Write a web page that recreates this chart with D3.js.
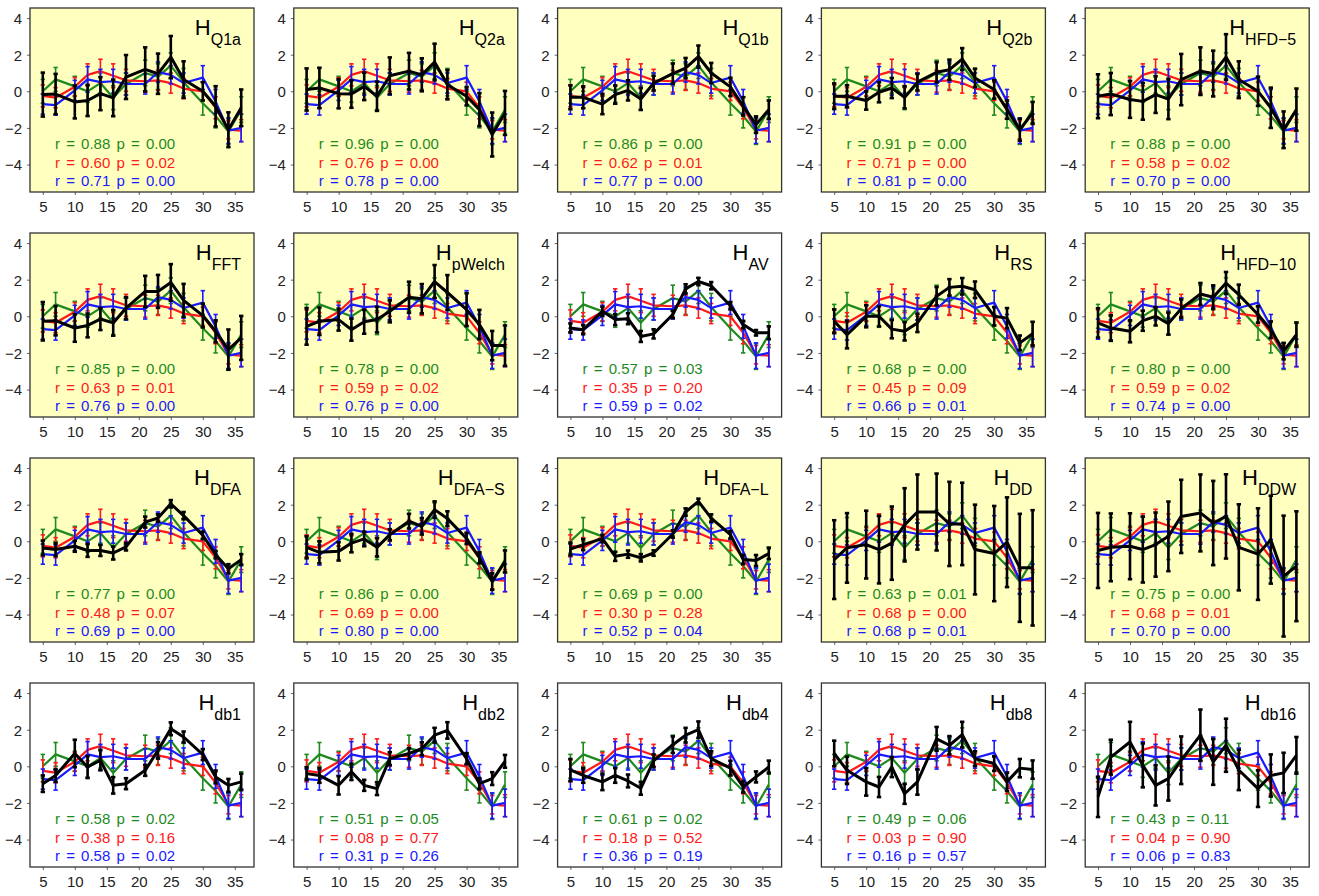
<!DOCTYPE html>
<html>
<head>
<meta charset="utf-8">
<script src="https://cdn.jsdelivr.net/npm/d3@7"></script>
<style>
  body { margin: 0; background: #fff; }
  svg { font-family: "Liberation Sans", Arial, sans-serif; }
  .tick text { font-size: 15px; fill: #222; }
</style>
</head>
<body>
<div id="chart"></div>
<script>
// x positions shared by all panels
const xVals = [5, 7, 10, 12, 14, 16, 18, 21, 23, 25, 27, 30, 32, 34, 36];
const xTicks = [5, 10, 15, 20, 25, 30, 35];
const yTicks = [-4, -2, 0, 2, 4];

// reference series (same in every panel)
const greenMean = [0.0, 0.65, 0.27, 0.0, 0.45, -0.35, 0.4, 1.0, 0.8, 1.4, 0.5, -0.65, -1.35, -2.2, -1.0];
const greenErr  = [0.65, 0.65, 0.55, 0.6, 0.55, 0.65, 0.6, 0.7, 0.7, 0.7, 0.75, 0.65, 0.65, 0.7, 0.7];
const redMean   = [-0.25, -0.35, 0.25, 0.9, 1.1, 0.85, 0.6, 0.55, 0.6, 0.45, 0.15, 0.0, -0.9, -2.1, -2.15];
const redErr    = [0.6, 0.55, 0.5, 0.6, 0.65, 0.65, 0.6, 0.6, 0.55, 0.55, 0.55, 0.5, 0.6, 0.5, 0.6];
const blueMean  = [-0.7, -0.75, 0.05, 0.65, 0.5, 0.55, 0.4, 0.4, 1.05, 0.9, 0.45, 0.75, -0.55, -2.15, -2.0];
const blueErr   = [0.55, 0.55, 0.55, 0.7, 0.7, 0.65, 0.6, 0.55, 0.55, 0.5, 0.55, 0.65, 0.65, 0.7, 0.75];

// panel titles (H with subscript)
const panelSubs = ["Q1a", "Q2a", "Q1b", "Q2b", "HFD\u22125",
                   "FFT", "pWelch", "AV", "RS", "HFD\u221210",
                   "DFA", "DFA\u2212S", "DFA\u2212L", "DD", "DDW",
                   "db1", "db2", "db4", "db8", "db16"];
const panelYellow = [1, 1, 1, 1, 1,
                     1, 1, 0, 1, 1,
                     1, 1, 1, 1, 1,
                     0, 0, 0, 0, 0];

// black series, one row per panel
const blackMean = [
  [-0.18, -0.15, -0.58, -0.5, -0.13, -0.36, 0.78, 1.2, 0.96, 1.87, 0.64, 0.0, -0.82, -2.1, -0.9],
  [0.1, 0.18, -0.13, -0.15, 0.27, -0.27, 0.85, 1.1, 0.9, 1.6, 0.36, -0.27, -1.0, -2.36, -1.18],
  [-0.33, -0.33, -0.7, -0.18, 0.05, -0.42, 0.45, 0.97, 1.27, 1.9, 1.0, 0.24, -0.82, -1.82, -1.0],
  [-0.27, -0.27, -0.5, -0.05, 0.18, -0.33, 0.5, 1.04, 1.18, 1.76, 0.73, 0.1, -1.0, -2.1, -1.18],
  [-0.27, -0.15, -0.45, -0.55, -0.18, -0.42, 0.64, 1.1, 0.97, 1.87, 0.64, 0.0, -0.9, -2.1, -1.0],
  [-0.27, -0.24, -0.64, -0.5, -0.15, -0.36, 0.45, 1.36, 1.36, 1.85, 0.87, 0.04, -0.82, -1.82, -1.18],
  [-0.55, -0.27, -0.18, -0.73, -0.3, -0.18, 0.27, 1.04, 0.96, 1.9, 1.3, 0.36, -0.45, -1.6, -1.6],
  [-0.64, -0.73, 0.27, -0.18, -0.13, -1.1, -0.96, 0.1, 1.5, 1.9, 1.67, 0.58, -0.45, -0.9, -0.9],
  [-0.27, -1.0, 0.0, 0.0, -0.7, -0.82, -0.36, 1.1, 1.58, 1.64, 1.45, 0.0, -0.1, -1.45, -0.95],
  [-0.36, -0.64, -0.82, -0.24, 0.0, -0.4, 0.42, 1.22, 1.04, 1.82, 1.18, 0.1, -0.73, -1.9, -1.0],
  [-0.36, -0.45, -0.27, -0.5, -0.5, -0.64, -0.3, 1.05, 1.27, 2.05, 1.4, 0.33, -0.73, -1.5, -1.0],
  [-0.33, -0.6, -0.55, -0.1, 0.13, -0.33, 0.36, 1.1, 0.82, 1.73, 1.24, 0.15, -0.9, -2.2, -1.1],
  [-0.42, -0.18, 0.15, -0.82, -0.7, -0.9, -0.64, 0.4, 1.6, 2.18, 1.27, 0.36, -1.0, -1.05, -0.67],
  [-1.0, -0.36, -0.18, -0.45, -0.1, 0.9, 1.6, 1.6, 0.95, 0.95, -0.45, -0.67, -0.05, -1.45, -1.45],
  [-0.5, -0.33, -0.27, -0.45, -0.18, 0.27, 1.36, 1.55, 1.0, 1.36, -0.33, -0.7, 0.09, -1.9, -1.36],
  [-0.95, -0.5, 0.7, -0.04, 0.33, -1.04, -0.95, -0.22, 0.87, 2.05, 1.6, 0.64, -0.58, -1.04, -0.85],
  [-0.4, -0.5, -1.04, -0.3, -1.04, -1.22, 0.42, 0.7, 0.96, 1.7, 1.96, 0.42, -0.95, -0.67, 0.27],
  [-0.2, -0.5, -0.85, -0.5, -0.8, -1.2, 0.3, 1.18, 1.7, 2.0, 0.42, -0.1, -1.13, -0.58, -0.04],
  [0.7, -0.22, -0.85, -1.13, -0.04, -1.5, -0.85, 1.5, 1.15, 1.73, 0.42, 0.15, -0.85, -0.1, -0.18],
  [-1.67, 0.5, 1.33, 0.05, -1.04, -0.67, 0.33, 1.7, 0.24, 1.15, -0.2, -1.22, -0.5, -0.36, 0.6]
];
const blackErr = [
  [1.2, 1.1, 0.9, 0.85, 0.9, 1.0, 1.2, 1.2, 1.1, 1.15, 1.0, 0.5, 1.1, 0.95, 1.0],
  [1.15, 1.1, 0.8, 0.75, 0.75, 0.8, 1.0, 1.0, 0.9, 1.0, 0.8, 0.5, 0.9, 1.2, 1.2],
  [0.65, 0.6, 0.55, 0.5, 0.55, 0.6, 0.4, 0.55, 0.55, 0.6, 0.55, 0.5, 0.5, 0.45, 0.5],
  [0.7, 0.6, 0.5, 0.55, 0.55, 0.6, 0.45, 0.55, 0.55, 0.6, 0.5, 0.5, 0.5, 0.6, 0.6],
  [1.2, 1.15, 1.0, 1.0, 1.0, 1.1, 1.4, 1.3, 1.25, 1.25, 1.0, 0.8, 1.1, 1.0, 1.15],
  [1.05, 0.8, 0.75, 0.65, 0.6, 0.7, 0.6, 0.85, 0.9, 1.0, 0.9, 0.65, 0.6, 1.1, 1.2],
  [1.0, 0.75, 0.6, 0.6, 0.65, 0.7, 0.6, 0.85, 0.8, 0.9, 0.95, 0.9, 0.8, 0.8, 1.1],
  [0.25, 0.25, 0.25, 0.3, 0.3, 0.3, 0.25, 0.2, 0.25, 0.2, 0.2, 0.2, 0.2, 0.15, 0.35],
  [0.65, 0.75, 0.6, 0.55, 0.5, 0.5, 0.5, 0.5, 0.45, 0.45, 0.45, 0.5, 0.55, 0.4, 0.65],
  [0.8, 0.7, 0.6, 0.55, 0.5, 0.6, 0.5, 0.6, 0.65, 0.6, 0.55, 0.45, 0.45, 0.45, 0.65],
  [0.4, 0.35, 0.3, 0.35, 0.3, 0.35, 0.2, 0.3, 0.2, 0.2, 0.2, 0.2, 0.2, 0.25, 0.3],
  [0.6, 0.6, 0.5, 0.5, 0.4, 0.5, 0.3, 0.4, 0.45, 0.45, 0.4, 0.3, 0.3, 0.45, 0.6],
  [0.35, 0.3, 0.2, 0.25, 0.2, 0.2, 0.15, 0.2, 0.2, 0.15, 0.2, 0.2, 0.25, 0.3, 0.3],
  [2.15, 1.9, 1.85, 1.85, 2.0, 2.0, 2.05, 2.1, 2.3, 2.25, 2.45, 2.6, 2.45, 2.95, 3.15],
  [2.05, 1.85, 1.8, 1.8, 1.75, 1.9, 2.0, 2.1, 2.3, 2.3, 2.35, 2.5, 2.4, 3.3, 3.0],
  [0.45, 0.35, 0.75, 0.6, 0.55, 0.45, 0.3, 0.3, 0.45, 0.35, 0.3, 0.3, 0.35, 0.35, 0.45],
  [0.35, 0.4, 0.5, 0.45, 0.3, 0.35, 0.35, 0.3, 0.35, 0.4, 0.45, 0.3, 0.3, 0.35, 0.35],
  [0.6, 0.4, 0.45, 0.4, 0.35, 0.35, 0.35, 0.45, 0.4, 0.45, 0.4, 0.4, 0.3, 0.3, 0.35],
  [0.7, 0.75, 0.75, 0.55, 0.55, 0.55, 0.7, 0.65, 0.5, 0.7, 0.4, 0.4, 0.5, 0.5, 0.5],
  [1.1, 0.95, 1.1, 1.2, 1.1, 1.2, 1.3, 1.4, 1.25, 1.45, 1.1, 1.0, 1.15, 1.1, 1.0]
];

// correlation stats per panel
const rGreen = [0.88, 0.96, 0.86, 0.91, 0.88, 0.85, 0.78, 0.57, 0.68, 0.80, 0.77, 0.86, 0.69, 0.63, 0.75, 0.58, 0.51, 0.61, 0.49, 0.43];
const pGreen = [0.00, 0.00, 0.00, 0.00, 0.00, 0.00, 0.00, 0.03, 0.00, 0.00, 0.00, 0.00, 0.00, 0.01, 0.00, 0.02, 0.05, 0.02, 0.06, 0.11];
const rRed   = [0.60, 0.76, 0.62, 0.71, 0.58, 0.63, 0.59, 0.35, 0.45, 0.59, 0.48, 0.69, 0.30, 0.68, 0.68, 0.38, 0.08, 0.18, 0.03, 0.04];
const pRed   = [0.02, 0.00, 0.01, 0.00, 0.02, 0.01, 0.02, 0.20, 0.09, 0.02, 0.07, 0.00, 0.28, 0.00, 0.01, 0.16, 0.77, 0.52, 0.90, 0.90];
const rBlue  = [0.71, 0.78, 0.77, 0.81, 0.70, 0.76, 0.76, 0.59, 0.66, 0.74, 0.69, 0.80, 0.52, 0.68, 0.70, 0.58, 0.31, 0.36, 0.16, 0.06];
const pBlue  = [0.00, 0.00, 0.00, 0.00, 0.00, 0.00, 0.00, 0.02, 0.01, 0.00, 0.00, 0.00, 0.04, 0.01, 0.00, 0.02, 0.26, 0.19, 0.57, 0.83];

const GREEN = "#1e8a1e", RED = "#ff1a1a", BLUE = "#1a1aff", BLACK = "#000";

// layout
const W = 1319, H = 896;
const left0 = 30, colStep = 263.8, plotW = 224;
const top0 = 8, rowStep = 225, plotH = 184;

const svg = d3.select("#chart").append("svg")
    .attr("width", W)
    .attr("height", H);

const x = d3.scaleLinear().domain([3, 38]).range([0, plotW]);
const y = d3.scaleLinear().domain([-5.5, 4.55]).range([plotH, 0]);

const line = d3.line()
    .x(d => x(d.x))
    .y(d => y(d.m));

function series(means, errs) {
    return xVals.map((v, i) => ({x: v, m: means[i], e: errs[i]}));
}

function drawSeries(g, data, color, lw, ew) {
    let s = g.append("g");
    // error bars
    let bars = s.selectAll(".eb").data(data).enter().append("g").attr("class", "eb");
    bars.append("line")
        .attr("x1", d => x(d.x)).attr("x2", d => x(d.x))
        .attr("y1", d => y(d.m + d.e)).attr("y2", d => y(d.m - d.e))
        .attr("stroke", color).attr("stroke-width", ew);
    bars.append("line")
        .attr("x1", d => x(d.x) - 2.2).attr("x2", d => x(d.x) + 2.2)
        .attr("y1", d => y(d.m + d.e)).attr("y2", d => y(d.m + d.e))
        .attr("stroke", color).attr("stroke-width", ew);
    bars.append("line")
        .attr("x1", d => x(d.x) - 2.2).attr("x2", d => x(d.x) + 2.2)
        .attr("y1", d => y(d.m - d.e)).attr("y2", d => y(d.m - d.e))
        .attr("stroke", color).attr("stroke-width", ew);
    // line through means
    s.append("path")
        .datum(data)
        .attr("d", line)
        .attr("fill", "none")
        .attr("stroke", color)
        .attr("stroke-width", lw)
        .attr("stroke-linejoin", "round");
}

const fmt = d3.format(".2f");

panelSubs.forEach((sub, k) => {
    let col = k % 5, row = Math.floor(k / 5);
    let g = svg.append("g")
        .attr("transform", `translate(${left0 + col * colStep}, ${top0 + row * rowStep})`);

    // background
    g.append("rect")
        .attr("width", plotW).attr("height", plotH)
        .attr("fill", panelYellow[k] ? "#ffffc0" : "#ffffff");

    // axes
    g.append("g")
        .attr("transform", `translate(0, ${plotH})`)
        .call(d3.axisBottom(x).tickValues(xTicks).tickSize(3).tickPadding(6))
        .call(a => a.select(".domain").remove())
        .call(a => a.selectAll(".tick line").attr("stroke", "#666"));
    g.append("g")
        .call(d3.axisLeft(y).tickValues(yTicks).tickSize(3).tickPadding(5)
              .tickFormat(d => d < 0 ? "\u2212" + Math.abs(d) : d))
        .call(a => a.select(".domain").remove())
        .call(a => a.selectAll(".tick line").attr("stroke", "#666"))
        .call(a => a.selectAll(".tick text").attr("dy", "0.36em"));

    // series
    drawSeries(g, series(greenMean, greenErr), GREEN, 2.2, 1.6);
    drawSeries(g, series(redMean, redErr), RED, 2.2, 1.6);
    drawSeries(g, series(blueMean, blueErr), BLUE, 2.2, 1.6);
    drawSeries(g, series(blackMean[k], blackErr[k]), BLACK, 3, 2.6);

    // frame
    g.append("rect")
        .attr("width", plotW).attr("height", plotH)
        .attr("fill", "none")
        .attr("stroke", "#333")
        .attr("stroke-width", 1.3);

    // title
    let t = g.append("text")
        .attr("x", plotW - 13)
        .attr("y", 27)
        .attr("text-anchor", "end")
        .attr("fill", "#000");
    t.append("tspan").attr("font-size", "22px").text("H");
    t.append("tspan").attr("font-size", "16px").attr("dy", 10).text(sub);

    // stats
    let stats = [[rGreen, pGreen, GREEN], [rRed, pRed, RED], [rBlue, pBlue, BLUE]];
    stats.forEach((s, i) => {
        g.append("text")
            .attr("x", 25)
            .attr("y", 141 + i * 18.5)
            .attr("fill", s[2])
            .attr("font-size", "15px")
            .attr("word-spacing", "2px")
            .text(`r = ${fmt(s[0][k])} p = ${fmt(s[1][k])}`);
    });
});
</script>
</body>
</html>
